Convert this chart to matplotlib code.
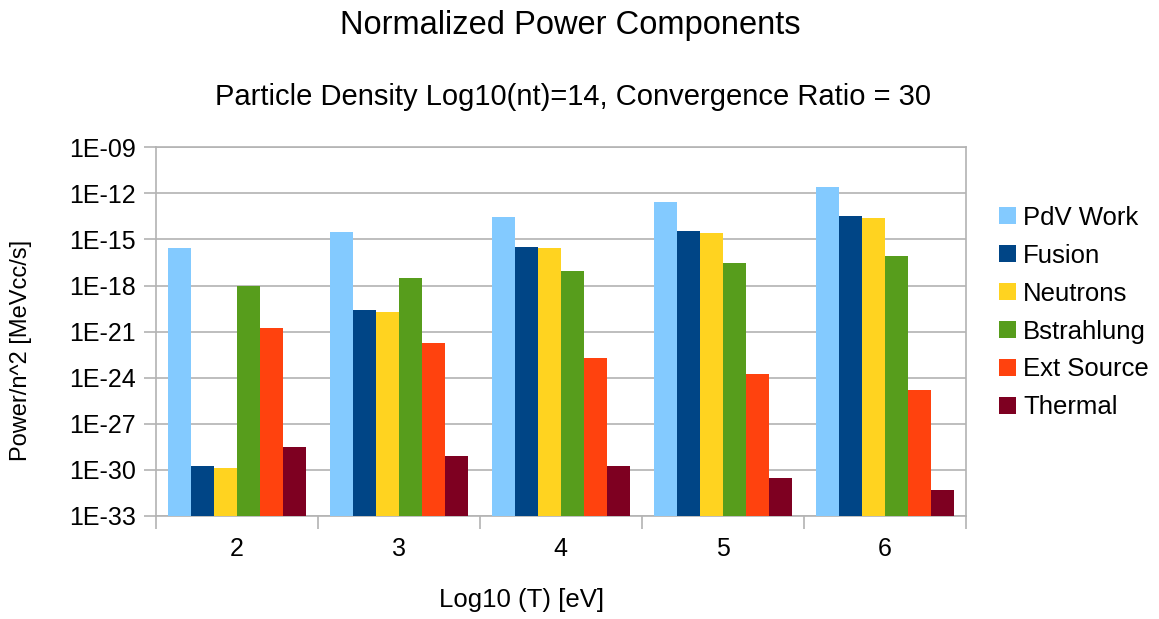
import matplotlib
matplotlib.use("Agg")
import matplotlib.pyplot as plt
import matplotlib.ticker as mticker
import numpy as np

plt.rcParams['font.family'] = ['Liberation Sans', 'DejaVu Sans']

# data
temps = ["2", "3", "4", "5", "6"]
series = ["PdV Work", "Fusion", "Neutrons", "Bstrahlung", "Ext Source", "Thermal"]
pdv = [2.9e-16, 2.9e-15, 2.9e-14, 2.9e-13, 2.7e-12]
fusion = [1.8e-30, 2.6e-20, 3.4e-16, 3.4e-15, 3.3e-14]
neutrons = [1.4e-30, 2.0e-20, 2.7e-16, 2.5e-15, 2.6e-14]
bstrahlung = [1.0e-18, 2.9e-18, 9.0e-18, 2.8e-17, 8.7e-17]
ext_source = [1.7e-21, 1.7e-22, 1.8e-23, 1.7e-24, 1.7e-25]
thermal = [3.2e-29, 8.1e-30, 1.7e-30, 3.0e-31, 4.7e-32]
colors = ["#83CAFF", "#004586", "#FFD320", "#579D1C", "#FF420E", "#7E0021"]

values = [pdv, fusion, neutrons, bstrahlung, ext_source, thermal]

fig = plt.figure(figsize=(11.59, 6.19), dpi=100)
ax = fig.add_axes([0.1343, 0.1664, 0.6992, 0.5956])

x = np.arange(len(temps))
w = 0.85 / len(series)
for i, (name, vals) in enumerate(zip(series, values)):
    ax.bar(x + (i - 2.5) * w, vals, w, bottom=1e-33, color=colors[i], label=name, zorder=3)

ax.set_yscale('log')
ax.set_ylim(1e-33, 1e-9)
ax.set_xlim(-0.5, len(temps) - 0.5)
ax.set_yticks([10.0 ** e for e in range(-33, -8, 3)])
ax.yaxis.set_major_formatter(mticker.FuncFormatter(lambda v, p: "1E-%02d" % round(-np.log10(v))))
ax.yaxis.set_minor_locator(mticker.NullLocator())

ax.set_xticks(x)
ax.set_xticklabels(temps)
ax.set_xticks(np.arange(len(temps) + 1) - 0.5, minor=True)
ax.tick_params(axis='x', which='major', length=0, labelsize=18, pad=15)
ax.tick_params(axis='x', which='minor', length=9, color='#b3b3b3', width=1.2)
ax.tick_params(axis='y', which='major', length=9, color='#b3b3b3', width=1.2, labelsize=18, pad=5)

ax.grid(axis='y', color='#b3b3b3', linewidth=1.2, zorder=0)
for s in ax.spines.values():
    s.set_color('#b3b3b3')
    s.set_linewidth(1.2)

ax.set_xlabel("Log10 (T) [eV]", fontsize=18.5)
ax.xaxis.set_label_coords(0.451, -0.195)
ax.set_ylabel("Power/n^2 [MeVcc/s]", fontsize=17)
ax.yaxis.set_label_coords(-0.153, 0.45)

fig.text(0.492, 0.959, "Normalized Power Components", ha='center', va='center', fontsize=23.5)
fig.text(0.494, 0.843, "Particle Density Log10(nt)=14, Convergence Ratio = 30", ha='center', va='center', fontsize=21)

ax.legend(loc='center left', bbox_to_anchor=(0.853, 0.495), bbox_transform=fig.transFigure,
          frameon=False, fontsize=18.5, handlelength=0.65, handleheight=0.65, handletextpad=0.3,
          labelspacing=0.54, borderaxespad=0)

fig.savefig("out.png", dpi=100)
